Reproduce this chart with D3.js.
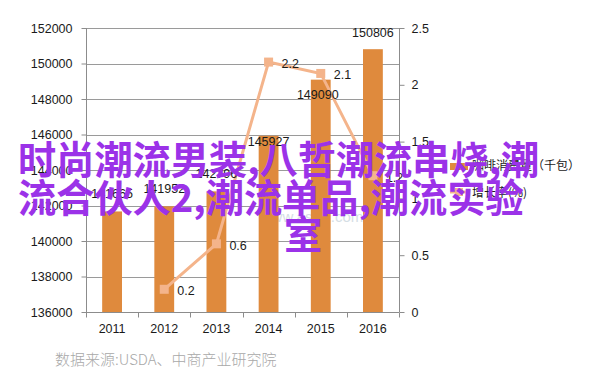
<!DOCTYPE html>
<html>
<head>
<meta charset="utf-8">
<script src="https://cdn.jsdelivr.net/npm/d3@7"></script>
<style>
  body { margin: 0; background: #fff; }
  svg { display: block; }
</style>
</head>
<body>
<script>
(function() {

  // data
  var years = ['2011', '2012', '2013', '2014', '2015', '2016'];
  var consumption = [141665, 141952, 142796, 145927, 149090, 150806];
  var growth = [null, 0.2, 0.6, 2.2, 2.1, 1.2];
  var leftTicks = [136000, 138000, 140000, 142000, 144000, 146000, 148000, 150000, 152000];
  var rightTicks = [0, 0.5, 1, 1.5, 2, 2.5];
  var legendNames = ['咖啡消费量（千包）', '增长率(%)'];
  var source = '数据来源:USDA、中商产业研究院';
  var overlayLines = ['时尚潮流男装,八哲潮流串烧,潮', '流合伙人2,潮流单品,潮流实验', '室'];

  // bar labels that Excel pushed down into the bar
  var barLabelDy = [-13, -13, -13, 10, 19, -12];
  var barLabelDx = [0, 0, 0, 0, -3, 0];

  var width = 602;
  var height = 384;
  var left = 86, right = 399, top = 28, bottom = 312;
  var barColor = '#DF8A3D';
  var lineColor = '#F4B48B';
  var axisColor = '#8c8c8c';
  var font = '"Liberation Sans", Arial, sans-serif';

  var svg = d3.select('body')
    .append('svg')
      .attr('width', width)
      .attr('height', height);

  var xCat = d3.scaleBand().domain(years).range([left, right]).padding(0);
  var xBar = d3.scaleBand().domain(years).range([left, right])
    .paddingInner(0.62).paddingOuter(0.31);
  var yLeft = d3.scaleLinear().domain([136000, 152000]).range([bottom, top]);
  var yRight = d3.scaleLinear().domain([0, 2.5]).range([bottom, top]);

  // gridlines
  svg.append('g')
    .selectAll('line')
    .data(leftTicks)
    .join('line')
      .attr('x1', left)
      .attr('x2', right)
      .attr('y1', d => Math.round(yLeft(d)) + 0.5)
      .attr('y2', d => Math.round(yLeft(d)) + 0.5)
      .attr('stroke', '#9a9a9a')
      .attr('stroke-width', 1);

  // watermark
  svg.append('text')
    .attr('x', 312)
    .attr('y', 222)
    .attr('text-anchor', 'middle')
    .attr('font-family', font)
    .attr('font-size', 15)
    .attr('fill', '#d5dee5')
    .text('www.askci.com');

  // left axis
  var axisL = svg.append('g')
    .attr('transform', 'translate(' + (left + 0.5) + ',0)')
    .call(d3.axisLeft(yLeft).tickValues(leftTicks).tickSize(5).tickPadding(9).tickFormat(d3.format('d')));
  // right axis
  var axisR = svg.append('g')
    .attr('transform', 'translate(' + (right + 0.5) + ',0)')
    .call(d3.axisRight(yRight).tickValues(rightTicks).tickSize(5).tickPadding(7).tickFormat(d => String(d)));

  [axisL, axisR].forEach(function(g) {
    g.select('.domain').attr('stroke', axisColor);
    g.selectAll('.tick line').attr('stroke', axisColor);
    g.selectAll('.tick text')
      .attr('fill', '#1a1a1a')
      .attr('font-family', font)
      .attr('font-size', 12.5);
  });
  axisL.select('.domain').attr('d', 'M0,' + top + 'V' + bottom);
  axisR.select('.domain').attr('d', 'M0,' + top + 'V' + bottom);

  // bars
  svg.append('g')
    .selectAll('rect')
    .data(consumption)
    .join('rect')
      .attr('x', (d, i) => xBar(years[i]))
      .attr('y', d => yLeft(d))
      .attr('width', xBar.bandwidth())
      .attr('height', d => bottom - yLeft(d))
      .attr('fill', barColor);

  // bottom axis: labels at centres, ticks at category edges
  var axisB = svg.append('g')
    .attr('transform', 'translate(0,' + (bottom + 0.5) + ')')
    .call(d3.axisBottom(xCat).tickSize(0).tickPadding(12));
  axisB.select('.domain').attr('stroke', axisColor).attr('d', 'M' + left + ',0H' + right);
  axisB.selectAll('.tick text')
    .attr('fill', '#1a1a1a')
    .attr('font-family', font)
    .attr('font-size', 12.5);
  axisB.selectAll('line.edge')
    .data(years.concat(['end']))
    .join('line')
      .attr('class', 'edge')
      .attr('x1', (d, i) => Math.round(i < years.length ? xCat(d) : right) + 0.5)
      .attr('x2', (d, i) => Math.round(i < years.length ? xCat(d) : right) + 0.5)
      .attr('y1', 0)
      .attr('y2', 5)
      .attr('stroke', axisColor);

  // growth line
  var pts = growth.map((v, i) => ({ year: years[i], v: v })).filter(p => p.v !== null);
  var line = d3.line()
    .x(p => xCat(p.year) + xCat.bandwidth() / 2)
    .y(p => yRight(p.v));

  svg.append('path')
    .datum(pts)
    .attr('d', line)
    .attr('fill', 'none')
    .attr('stroke', lineColor)
    .attr('stroke-width', 3);

  svg.append('g')
    .selectAll('rect')
    .data(pts)
    .join('rect')
      .attr('x', p => xCat(p.year) + xCat.bandwidth() / 2 - 4.5)
      .attr('y', p => yRight(p.v) - 4.5)
      .attr('width', 9)
      .attr('height', 9)
      .attr('fill', lineColor);

  svg.append('g')
    .selectAll('text')
    .data(pts)
    .join('text')
      .attr('x', p => xCat(p.year) + xCat.bandwidth() / 2 + 13)
      .attr('y', p => yRight(p.v) + 6)
      .attr('font-family', font)
      .attr('font-size', 12.5)
      .attr('fill', '#1a1a1a')
      .text(p => String(p.v));

  // bar value labels
  svg.append('g')
    .selectAll('text')
    .data(consumption)
    .join('text')
      .attr('x', (d, i) => xCat(years[i]) + xCat.bandwidth() / 2 + barLabelDx[i])
      .attr('y', (d, i) => yLeft(d) + barLabelDy[i])
      .attr('text-anchor', 'middle')
      .attr('font-family', font)
      .attr('font-size', 12.5)
      .attr('fill', '#1a1a1a')
      .text(d => String(d));

  // legend
  var legend = svg.append('g').attr('transform', 'translate(450,0)');
  legend.append('rect')
    .attr('x', 0).attr('y', 163)
    .attr('width', 18).attr('height', 7)
    .attr('fill', barColor);
  legend.append('line')
    .attr('x1', 0).attr('x2', 18)
    .attr('y1', 192).attr('y2', 192)
    .attr('stroke', lineColor).attr('stroke-width', 3);
  legend.append('rect')
    .attr('x', 5).attr('y', 188)
    .attr('width', 8).attr('height', 8)
    .attr('fill', lineColor);
  legend.selectAll('text.name')
    .data(legendNames)
    .join('text')
      .attr('class', 'name')
      .attr('x', 22)
      .attr('y', (d, i) => 170 + i * 27)
      .attr('font-family', '"Noto Sans CJK SC", sans-serif')
      .attr('font-size', 12)
      .attr('fill', '#1a1a1a')
      .text(d => d);

  // source note
  svg.append('text')
    .attr('x', 55)
    .attr('y', 365)
    .attr('font-family', '"Noto Sans CJK SC", sans-serif')
    .attr('font-weight', 300)
    .attr('font-size', 15)
    .attr('fill', '#a8a8a8')
    .text(source);

  // purple overlay caption
  var overlayX = [18, 18, 284];
  svg.append('g')
    .selectAll('text')
    .data(overlayLines)
    .join('text')
      .attr('x', (d, i) => overlayX[i])
      .attr('y', (d, i) => 174 + i * 37.5)
      .attr('font-family', '"Noto Sans CJK SC", sans-serif')
      .attr('font-weight', 700)
      .attr('font-size', 38.2)
      .attr('fill', '#9B32E8')
      .text(d => d);

})();
</script>
</body>
</html>
